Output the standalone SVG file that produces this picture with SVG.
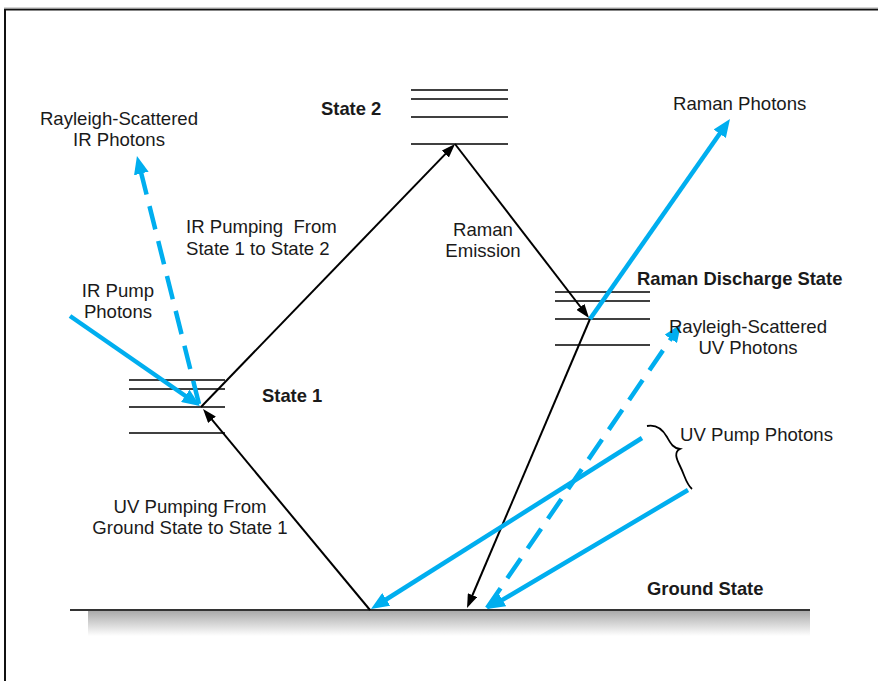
<svg xmlns="http://www.w3.org/2000/svg" width="878" height="681" viewBox="0 0 878 681">
<defs>
<style>
text{font-family:"Liberation Sans",Arial,sans-serif;font-size:18.6px;fill:#1a1a1a}
.b{font-weight:bold;font-size:18.4px}
.lvl{stroke:#000;stroke-width:1.6}
.k{stroke:#000;stroke-width:2;fill:none}
.u{stroke:#00aeef;stroke-width:4.5;fill:none}
.d{stroke-dasharray:24 12}
</style>
<marker id="ak" markerUnits="userSpaceOnUse" markerWidth="14" markerHeight="10" refX="2" refY="5" orient="auto">
<path d="M0,0 L14,5 L0,10 Z" fill="#000"/>
</marker>
<marker id="ab" markerUnits="userSpaceOnUse" markerWidth="18" markerHeight="15" refX="3" refY="7.5" orient="auto">
<path d="M0,0 L18,7.5 L0,15 Z" fill="#00aeef"/>
</marker>
<linearGradient id="sh" x1="0" y1="0" x2="0" y2="1">
<stop offset="0" stop-color="#aaaaaa"/>
<stop offset="1" stop-color="#ffffff"/>
</linearGradient>
</defs>
<rect width="878" height="681" fill="#fff"/>
<path d="M5,681 V9.5 H878" fill="none" stroke="#111" stroke-width="2"/>
<path d="M4,8 H878" stroke="#aaa" stroke-width="1"/>

<g id="ground">
<rect x="88" y="611" width="722" height="25" fill="url(#sh)"/>
<line x1="70" y1="610" x2="810" y2="610" stroke="#333" stroke-width="2"/>
<text class="b" x="647" y="595">Ground State</text>
</g>
<g id="state1">
<line class="lvl" x1="129" y1="380" x2="225" y2="380"/>
<line class="lvl" x1="129" y1="389" x2="225" y2="389"/>
<line class="lvl" x1="129" y1="407" x2="225" y2="407"/>
<line class="lvl" x1="129" y1="433" x2="225" y2="433"/>
<text class="b" x="262" y="402">State 1</text>
</g>
<g id="state2">
<line class="lvl" x1="411" y1="90" x2="508" y2="90"/>
<line class="lvl" x1="411" y1="99" x2="508" y2="99"/>
<line class="lvl" x1="411" y1="117" x2="508" y2="117"/>
<line class="lvl" x1="411" y1="144" x2="508" y2="144"/>
<text class="b" x="321" y="115">State 2</text>
</g>
<g id="raman-discharge">
<line class="lvl" x1="555" y1="292" x2="650" y2="292"/>
<line class="lvl" x1="555" y1="301" x2="650" y2="301"/>
<line class="lvl" x1="555" y1="319" x2="650" y2="319"/>
<line class="lvl" x1="555" y1="345" x2="650" y2="345"/>
<text class="b" x="637" y="285">Raman Discharge State</text>
</g>

<g id="connectors">
<line class="k" x1="370" y1="610" x2="210.7" y2="418.2" marker-end="url(#ak)"/>
<line class="k" x1="201" y1="407" x2="446.7" y2="152.6" marker-end="url(#ak)"/>
<line class="k" x1="455" y1="144" x2="581.7" y2="308.5" marker-end="url(#ak)"/>
<line class="k" x1="590" y1="319" x2="471.7" y2="597" marker-end="url(#ak)"/>
<line class="u" x1="70" y1="316" x2="187.7" y2="397.5" marker-end="url(#ab)"/>
<line class="u d" x1="199" y1="404" x2="140.6" y2="170.6" marker-end="url(#ab)"/>
<line class="u" x1="590" y1="319" x2="721.4" y2="131.3" marker-end="url(#ab)"/>
<line class="u" x1="642" y1="438" x2="383.7" y2="601" marker-end="url(#ab)"/>
<line class="u" x1="688" y1="490" x2="499.9" y2="601.4" marker-end="url(#ab)"/>
<line class="u d" x1="487" y1="608" x2="672.5" y2="336.4" marker-end="url(#ab)"/>
<path d="M647,426 C657,424 663,430 667,437 C671,444 673,448 680,449 C674,452 676,458 680,466 C685,476 686,484 692,489" fill="none" stroke="#000" stroke-width="1.8"/>
</g>

<g id="labels">
<text x="119" y="125" text-anchor="middle">Rayleigh-Scattered</text>
<text x="119" y="146" text-anchor="middle">IR Photons</text>
<text x="673" y="110">Raman Photons</text>
<text x="186" y="233" style="white-space:pre">IR Pumping  From</text>
<text x="186" y="255">State 1 to State 2</text>
<text x="483" y="236" text-anchor="middle">Raman</text>
<text x="483" y="257" text-anchor="middle">Emission</text>
<text x="118" y="297" text-anchor="middle">IR Pump</text>
<text x="118" y="318" text-anchor="middle">Photons</text>
<text x="748" y="333" text-anchor="middle">Rayleigh-Scattered</text>
<text x="748" y="354" text-anchor="middle">UV Photons</text>
<text x="680" y="441">UV Pump Photons</text>
<text x="190" y="513" text-anchor="middle">UV Pumping From</text>
<text x="190" y="534" text-anchor="middle">Ground State to State 1</text>
</g>
</svg>
